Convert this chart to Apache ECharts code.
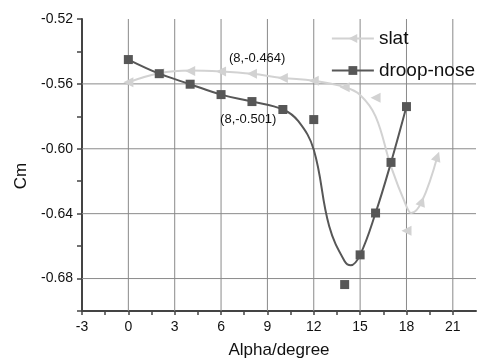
<!DOCTYPE html>
<html>
<head>
<meta charset="utf-8">
<script src="https://cdn.jsdelivr.net/npm/echarts@6/dist/echarts.min.js"></script>
<style>html,body{margin:0;padding:0;background:#fff}#c{width:480px;height:364px}</style>
</head>
<body>
<div id="c"></div>
<script>
// ---- data ----
const alphaSlat = [0, 2, 4, 6, 8, 10, 12, 14, 16, 18, 19, 20];
const cmSlat = [-0.559, -0.5534, -0.552, -0.5524, -0.5538, -0.5563, -0.558, -0.562, -0.5686, -0.6505, -0.6324, -0.6047];
const alphaSlatCurve = [0, 2, 4, 6, 8, 10, 12, 14, 15, 16, 17, 18, 18.3, 19, 20];
const cmSlatCurve = [-0.559, -0.5534, -0.5518, -0.5524, -0.5538, -0.5563, -0.558, -0.562, -0.5668, -0.580, -0.611, -0.6355, -0.6396, -0.6324, -0.6047];

const alphaDroop = [0, 2, 4, 6, 8, 10, 12, 14, 15, 16, 17, 18];
const cmDroop = [-0.545, -0.5537, -0.5602, -0.5666, -0.5709, -0.5758, -0.582, -0.6837, -0.6654, -0.6396, -0.6084, -0.574];
const alphaDroopCurve = [0, 2, 4, 6, 8, 10, 11, 12, 13, 14, 14.4, 15, 16, 17, 18];
const cmDroopCurve = [-0.545, -0.5537, -0.5602, -0.5666, -0.5709, -0.5758, -0.583, -0.6006, -0.6478, -0.6693, -0.6718, -0.6654, -0.6396, -0.6084, -0.574];

const seriesNames = ['slat', 'droop-nose'];
const annotationTexts = ['(8,-0.464)', '(8,-0.501)'];
const annotationAlpha = [8.34, 7.76];
const annotationCm = [-0.5446, -0.5822];

const xRange = [-3, 22.5];
const yRange = [-0.70, -0.52];
const xTickLabels = [-3, 0, 3, 6, 9, 12, 15, 18, 21];
const yTickLabels = [-0.68, -0.64, -0.60, -0.56, -0.52];
const xGridLines = [0, 3, 6, 9, 12, 15, 18, 21];
const yGridLines = [-0.68, -0.64, -0.60, -0.56];

// ---- styling ----
const slatColor = '#d2d2d2';
const droopColor = '#575757';
const gridColor = '#8a8a8a';
const slatRotate = [90, 90, 90, 90, 90, 90, 90, 90, 90, 90, -20, -20];
const FONT = '"Liberation Sans", Arial, sans-serif';

const zip = (a, b) => a.map((v, i) => [v, b[i]]);
const isLabel = (arr, v) => arr.some(t => Math.abs(t - v) < 1e-6);

const gridSeries = xGridLines.map(v => [[v, yRange[0]], [v, yRange[1]]])
  .concat(yGridLines.map(v => [[xRange[0], v], [xRange[1], v]]))
  .map((pts, i) => ({
    name: 'grid' + i,
    type: 'line',
    data: pts,
    silent: true,
    showSymbol: false,
    symbol: 'none',
    lineStyle: {color: gridColor, width: 1},
    emphasis: {disabled: true},
    tooltip: {show: false},
    z: 1
  }));

const chart = echarts.init(document.getElementById('c'), null, {renderer: 'canvas'});
chart.setOption({
  animation: false,
  backgroundColor: '#fff',
  textStyle: {fontFamily: FONT},
  grid: {left: 82, right: 4, top: 19, bottom: 52, containLabel: false},
  legend: {
    data: seriesNames,
    orient: 'vertical',
    right: 0,
    top: 24,
    itemWidth: 42,
    itemHeight: 11,
    itemGap: 13,
    textStyle: {fontSize: 19, color: '#111', fontFamily: FONT},
    inactiveColor: '#ccc'
  },
  xAxis: {
    type: 'value',
    min: xRange[0], max: xRange[1], interval: 1.5,
    name: 'Alpha/degree',
    nameLocation: 'middle',
    nameGap: 31,
    nameTextStyle: {fontSize: 17, color: '#111', fontFamily: FONT},
    axisLine: {show: true, onZero: false, lineStyle: {color: '#444', width: 2}},
    axisTick: {show: true, inside: false, length: 4, lineStyle: {color: '#444', width: 1.5}},
    axisLabel: {
      fontSize: 14, color: '#111', margin: 9, showMaxLabel: false, showMinLabel: true,
      formatter: v => isLabel(xTickLabels, v) ? String(Math.round(v)) : ''
    },
    splitLine: {show: false}
  },
  yAxis: {
    type: 'value',
    min: yRange[0], max: yRange[1], interval: 0.02,
    name: 'Cm',
    nameLocation: 'middle',
    nameGap: 52,
    nameRotate: 90,
    nameTextStyle: {fontSize: 17, color: '#111', fontFamily: FONT, padding: [0, 22, 0, 0]},
    axisLine: {show: true, onZero: false, lineStyle: {color: '#444', width: 2}},
    axisTick: {show: true, inside: false, length: 5, lineStyle: {color: '#444', width: 1.5}},
    axisLabel: {
      fontSize: 14, color: '#111', margin: 9,
      formatter: v => isLabel(yTickLabels, v) ? v.toFixed(2) : ''
    },
    splitLine: {show: false}
  },
  series: gridSeries.concat([
    {
      name: seriesNames[0],
      type: 'line',
      data: zip(alphaSlatCurve, cmSlatCurve),
      smooth: 0.4,
      showSymbol: false,
      symbol: 'triangle',
      symbolRotate: 90,
      symbolSize: 10,
      color: slatColor,
      lineStyle: {color: slatColor, width: 2},
      itemStyle: {color: slatColor},
      z: 2
    },
    {
      name: 'slat-points',
      type: 'scatter',
      data: alphaSlat.map((a, i) => ({value: [a, cmSlat[i]], symbolRotate: slatRotate[i]})),
      symbol: 'triangle',
      symbolSize: [10, 10],
      itemStyle: {color: slatColor, opacity: 1},
      z: 3
    },
    {
      name: seriesNames[1],
      type: 'line',
      data: zip(alphaDroopCurve, cmDroopCurve),
      smooth: 0.4,
      showSymbol: false,
      symbol: 'rect',
      symbolSize: 9,
      color: droopColor,
      lineStyle: {color: droopColor, width: 2},
      itemStyle: {color: droopColor},
      z: 4
    },
    {
      name: 'droop-points',
      type: 'scatter',
      data: zip(alphaDroop, cmDroop),
      symbol: 'rect',
      symbolSize: 9,
      itemStyle: {color: droopColor, opacity: 1},
      z: 5,
      markPoint: {
        symbol: 'circle',
        symbolSize: 0,
        silent: true,
        label: {show: true, position: 'inside', color: '#111', fontSize: 13, fontFamily: FONT},
        data: annotationTexts.map((t, i) => ({coord: [annotationAlpha[i], annotationCm[i]], value: t, label: {formatter: t}}))
      }
    }
  ])
});
</script>
</body>
</html>
